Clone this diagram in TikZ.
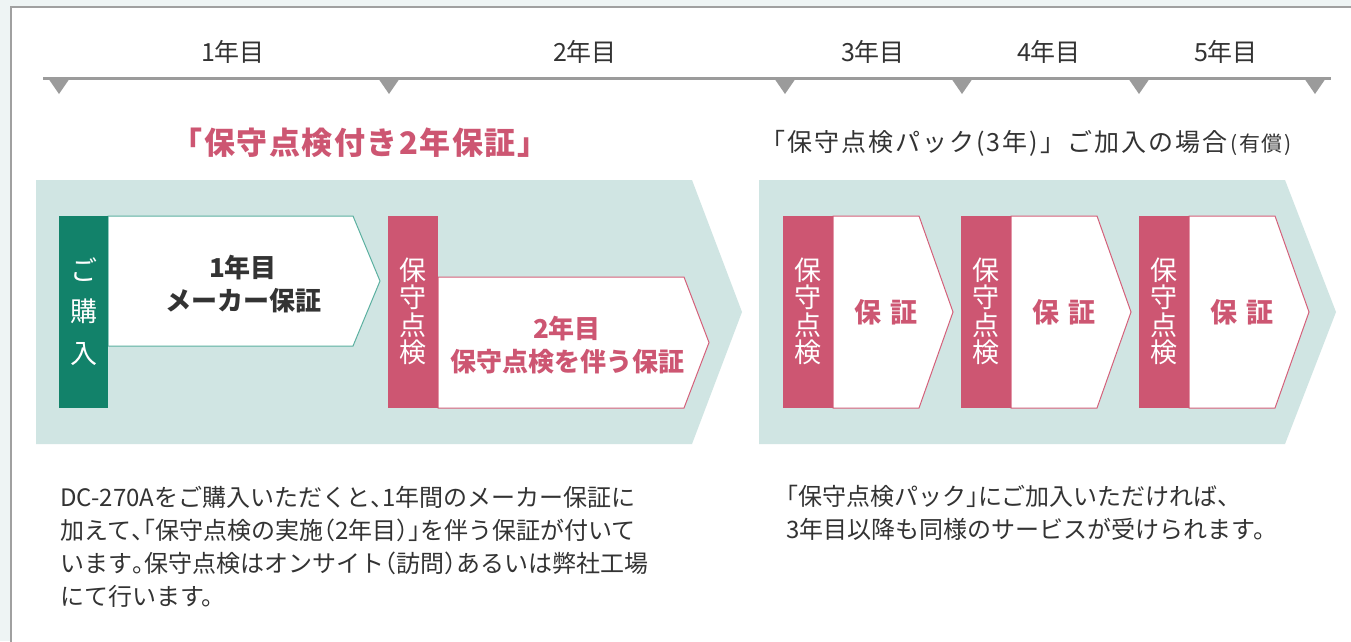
\documentclass[tikz,border=0pt]{standalone}
\usepackage{fontspec}
\setmainfont{Noto Sans CJK JP}
\newfontfamily\hfont{Noto Sans CJK JP}[CharacterWidth=AlternateHalf]
\newcommand\hw[1]{{\hfont #1}}
\definecolor{pagebg}{HTML}{EEF4F4}
\definecolor{panelborder}{HTML}{A0A0A0}
\definecolor{tealbg}{HTML}{D0E5E3}
\definecolor{grn}{HTML}{12826A}
\definecolor{grnline}{HTML}{5BB0A0}
\definecolor{pnk}{HTML}{CD5672}
\definecolor{pnkline}{HTML}{D4607A}
\definecolor{tl}{HTML}{9B9B9B}
\definecolor{txt}{HTML}{333333}
\tikzset{
  yearlbl/.style={text=txt, font=\fontsize{25}{29}\selectfont, inner sep=0pt},
  tick/.style={fill=tl, draw=none},
  bigarrow/.style={fill=tealbg, draw=none},
  pinkbar/.style={fill=pnk, draw=none},
  greenbar/.style={fill=grn, draw=none},
  whitearrowP/.style={fill=white, draw=pnkline, line width=1pt, line join=miter},
  whitearrowG/.style={fill=white, draw=grnline, line width=1pt, line join=miter},
  vtext/.style={text=white, font=\fontsize{27}{27.5}\selectfont, align=center, inner sep=0pt},
  boxtxt/.style={font=\bfseries\fontsize{26}{33}\selectfont, align=center, inner sep=0pt},
  bodytxt/.style={text=txt, font=\fontsize{24}{33}\selectfont, inner sep=0pt, align=left, anchor=base west},
}
\begin{document}
\begin{tikzpicture}[x=1pt,y=-1pt]
\useasboundingbox (0,0) rectangle (1351,641);
\fill[pagebg] (0,0) rectangle (1351,641);
\fill[white] (11,7) rectangle (1370,660);
\draw[panelborder, line width=1.5pt] (11,660) -- (11,7) -- (1370,7);

% timeline
\draw[tl, line width=3pt] (43,78) -- (1331,78);
\foreach \x in {59,389,785,962,1139,1315}{
  \fill[tick] (\x-11,78) -- (\x+11,78) -- (\x,94) -- cycle;
}
\node[yearlbl] (y1) at (233,52) {1年目};
\node[yearlbl] (y2) at (585,52) {2年目};
\node[yearlbl] (y3) at (873,52) {3年目};
\node[yearlbl] (y4) at (1049,52) {4年目};
\node[yearlbl] (y5) at (1226,52) {5年目};

% titles
\node[text=pnk, font=\bfseries\fontsize{31}{35}\selectfont\addfontfeature{LetterSpace=5}, inner sep=0pt] (ttlL) at (360,143) {「保守点検付き2年保証」};
\node[text=txt, font=\fontsize{25}{29}\selectfont\addfontfeature{LetterSpace=8}, inner sep=0pt] (ttlR) at (1026,143) {「保守点検パック(3年)」ご加入の場合\hspace{3pt}{\fontsize{21}{24}\selectfont(有償)}};

% big teal arrows
\fill[bigarrow] (36,180) -- (692,180) -- (742,312) -- (692,444) -- (36,444) -- cycle;
\fill[bigarrow] (759,180) -- (1285,180) -- (1336,312) -- (1285,444) -- (759,444) -- cycle;

% left group
\filldraw[whitearrowG] (108,216) -- (353,216) -- (380,281) -- (353,346) -- (108,346) -- cycle;
\fill[greenbar] (59,216) rectangle (108,408);
\node[vtext, font=\fontsize{27}{41.5}\selectfont] (kounyu) at (83.5,311.5) {ご\\購\\入};
\node[boxtxt, text=txt] (maker) at (243,284) {1年目\\メーカー保証};

\filldraw[whitearrowP] (438,277) -- (684,277) -- (709,342.5) -- (684,408) -- (438,408) -- cycle;
\fill[pinkbar] (388,216) rectangle (438,408);
\node[vtext] (hs1) at (413,311.5) {保\\守\\点\\検};
\node[boxtxt, text=pnk] (y2txt) at (567,345) {2年目\\保守点検を伴う保証};

% right group
\foreach \b/\n in {783/a,961/b,1139/c}{
  \filldraw[whitearrowP] (\b+50,216) -- (\b+136,216) -- (\b+170,312) -- (\b+136,408) -- (\b+50,408) -- cycle;
  \fill[pinkbar] (\b,216) rectangle (\b+50,408);
  \node[vtext] (hsv\n) at (\b+25,311.5) {保\\守\\点\\検};
  \node[text=pnk, font=\bfseries\fontsize{27}{30}\selectfont, inner sep=0pt] (hosho\n) at (\b+103,312) {保\hspace{0.35em}証};
}

% body text (base anchor = baseline of the last line)
\node[bodytxt] (lbody) at (60,605) {DC-270Aをご購入いただくと\hw{、}1年間のメーカー保証に\\
加えて\hw{、「}保守点検の実施\hw{（}2年目\hw{）」}を伴う保証が付いて\\
います\hw{。}保守点検はオンサイト\hw{（}訪問\hw{）}あるいは弊社工場\\
にて行います。};
\node[bodytxt] (rbody) at (786,538.5) {\hw{「}保守点検パック\hw{」}にご加入いただければ、\\
3年目以降も同様のサービスが受けられます。};
\end{tikzpicture}
\end{document}
